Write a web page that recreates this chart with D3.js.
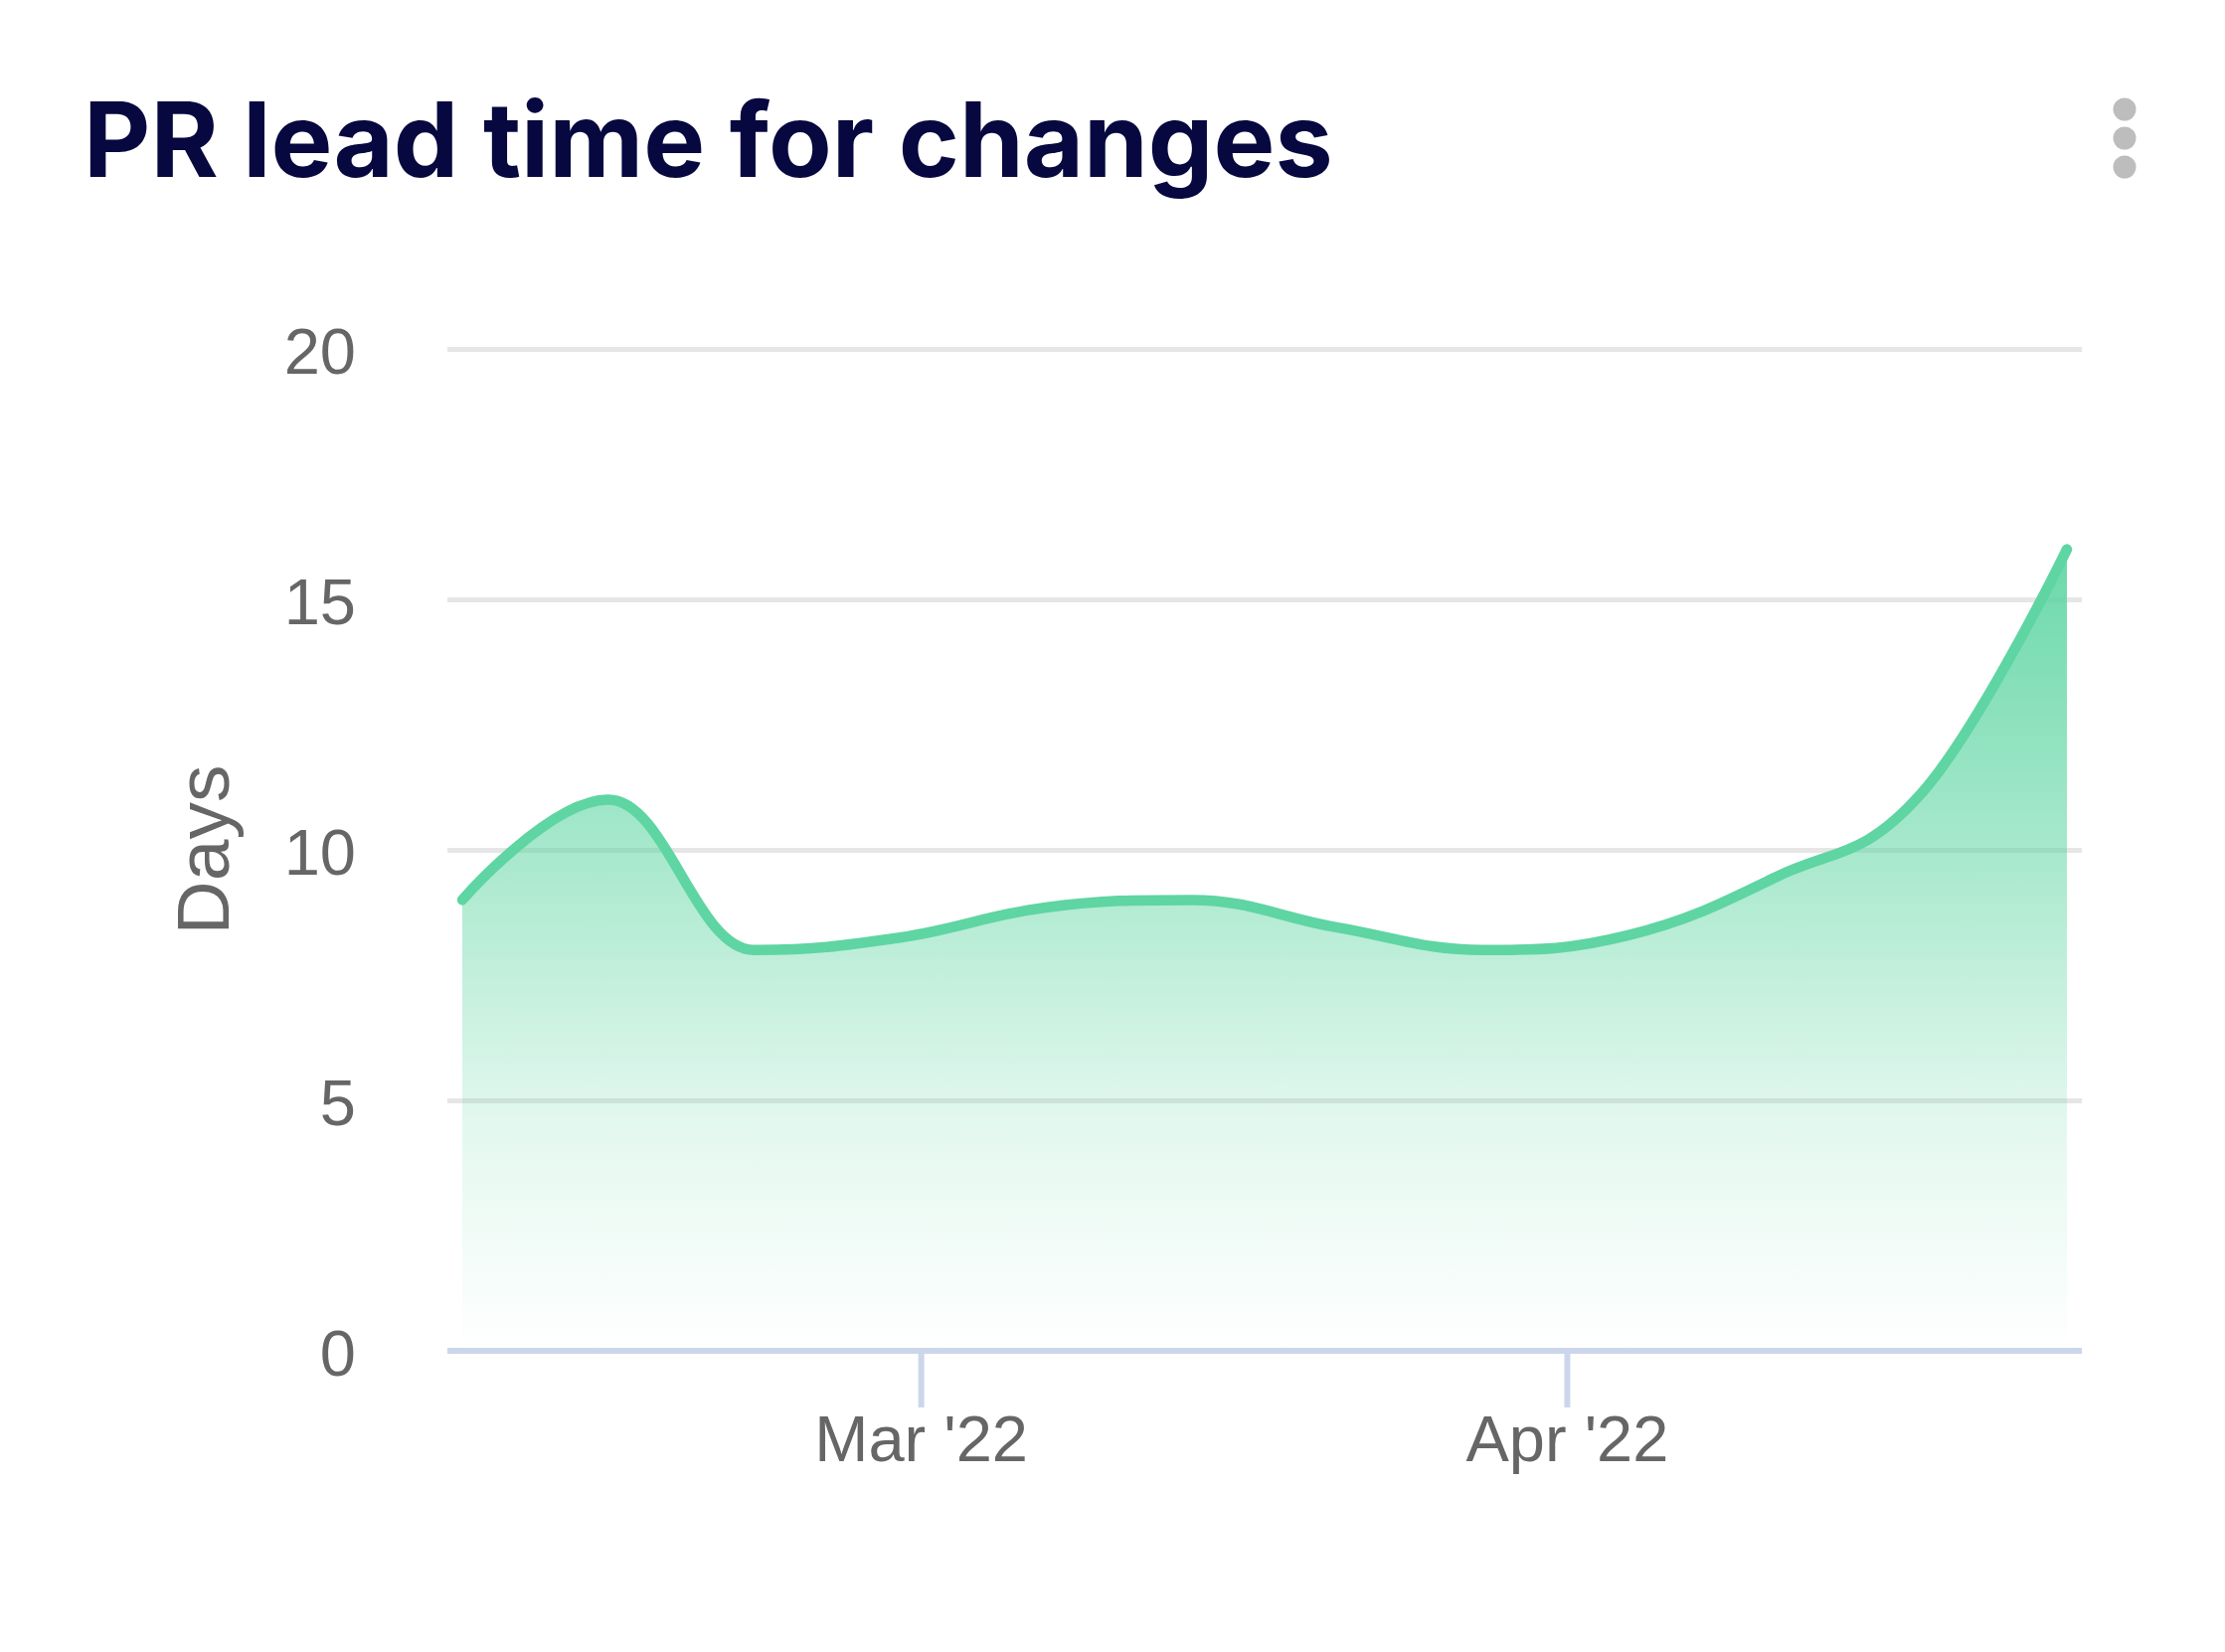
<!DOCTYPE html>
<html>
<head>
<meta charset="utf-8">
<script src="https://cdn.jsdelivr.net/npm/d3@7"></script>
<style>
    body { margin: 0; background: #ffffff; }
    svg { display: block; }
</style>
</head>
<body>
<div id="chart"></div>
<script>
"use strict";

var chartTitle = "PR lead time for changes";
var yAxisTitle = "Days";

// one point per week (Mondays)
var weeks = [
    "2022-02-07", "2022-02-14", "2022-02-21", "2022-02-28",
    "2022-03-07", "2022-03-14", "2022-03-21", "2022-03-28",
    "2022-04-04", "2022-04-11", "2022-04-18", "2022-04-25"
];
var leadDays = [9.0, 11.0, 8.0, 8.25, 8.85, 9.0, 8.45, 8.0, 8.3, 9.45, 11.12, 16.0];
var yTicks = [0, 5, 10, 15, 20];

var Width = 2238,
    Height = 1662,
    PlotLeft = 450,
    PlotRight = 2094,
    PlotTop = 351,
    PlotBottom = 1359,
    PointPad = 15;

var LineColor = "#5ed5a2",
    GridColor = "#e6e6e6",
    AxisColor = "#ccd6eb",
    LabelColor = "#666666";

var parseDay = d3.timeParse("%Y-%m-%d");
var points = weeks.map(function (w, i) {
    return {date: parseDay(w), value: leadDays[i]};
});

// spline the way highcharts draws it (smoothing 1.5, no false extremes)
function SplineCurve(context) {
    this._context = context;
}
SplineCurve.prototype = {
    areaStart: function () { this._line = 0; },
    areaEnd: function () { this._line = NaN; },
    lineStart: function () { this._pts = []; },
    point: function (x, y) { this._pts.push([+x, +y]); },
    lineEnd: function () {
        var pts = this._pts, n = pts.length, ctx = this._context;
        if (n) {
            if (this._line) ctx.lineTo(pts[0][0], pts[0][1]);
            else ctx.moveTo(pts[0][0], pts[0][1]);
            var prevRight = null;
            for (var i = 1; i < n; i++) {
                var p = pts[i], last = pts[i - 1], next = pts[i + 1];
                var left = null, right = null;
                if (next) {
                    var s = 1.5, den = 2.5;
                    var lcx = (s * p[0] + last[0]) / den, lcy = (s * p[1] + last[1]) / den,
                        rcx = (s * p[0] + next[0]) / den, rcy = (s * p[1] + next[1]) / den;
                    var corr = 0;
                    if (rcx !== lcx) corr = ((rcy - lcy) * (rcx - p[0])) / (rcx - lcx) + p[1] - rcy;
                    lcy += corr;
                    rcy += corr;
                    if (lcy > last[1] && lcy > p[1]) { lcy = Math.max(last[1], p[1]); rcy = 2 * p[1] - lcy; }
                    else if (lcy < last[1] && lcy < p[1]) { lcy = Math.min(last[1], p[1]); rcy = 2 * p[1] - lcy; }
                    if (rcy > next[1] && rcy > p[1]) { rcy = Math.max(next[1], p[1]); lcy = 2 * p[1] - rcy; }
                    else if (rcy < next[1] && rcy < p[1]) { rcy = Math.min(next[1], p[1]); lcy = 2 * p[1] - rcy; }
                    left = [lcx, lcy];
                    right = [rcx, rcy];
                }
                var c1 = prevRight || last, c2 = left || p;
                ctx.bezierCurveTo(c1[0], c1[1], c2[0], c2[1], p[0], p[1]);
                prevRight = right;
            }
        }
        if (this._line || (this._line !== 0 && n === 1)) ctx.closePath();
        this._line = 1 - this._line;
    }
};
function splineCurve(context) {
    return new SplineCurve(context);
}

var svg = d3.select("#chart")
    .append("svg")
    .attr("width", Width)
    .attr("height", Height);

var x = d3.scaleTime()
    .domain(d3.extent(points, function (d) { return d.date; }))
    .range([PlotLeft + PointPad, PlotRight - PointPad]);

var y = d3.scaleLinear()
    .domain([0, 20])
    .range([PlotBottom, PlotTop]);

var defs = svg.append("defs");
var grad = defs.append("linearGradient")
    .attr("id", "area-fill")
    .attr("x1", 0).attr("y1", 0)
    .attr("x2", 0).attr("y2", 1);
grad.append("stop").attr("offset", 0).attr("stop-color", LineColor).attr("stop-opacity", 0.92);
grad.append("stop").attr("offset", 0.4).attr("stop-color", LineColor).attr("stop-opacity", 0.52);
grad.append("stop").attr("offset", 0.72).attr("stop-color", LineColor).attr("stop-opacity", 0.17);
grad.append("stop").attr("offset", 1).attr("stop-color", LineColor).attr("stop-opacity", 0.0);

// title
svg.append("text")
    .attr("x", 84)
    .attr("y", 178)
    .style("font-family", "Inter, 'Noto Sans', sans-serif")
    .style("font-weight", 700)
    .style("font-size", "104px")
    .style("fill", "#06083f")
    .text(chartTitle);

// menu dots
svg.append("g")
    .selectAll("circle")
    .data([110, 139, 168])
    .enter()
    .append("circle")
    .attr("cx", 2137)
    .attr("cy", function (d) { return d; })
    .attr("r", 11.5)
    .style("fill", "#bdbdbd");

// y axis + grid
var yAxis = svg.append("g")
    .attr("transform", "translate(" + PlotLeft + ",0)")
    .call(d3.axisLeft(y)
        .tickValues(yTicks)
        .tickSize(-(PlotRight - PlotLeft))
        .tickPadding(92));
yAxis.select(".domain").remove();
yAxis.selectAll(".tick line")
    .style("stroke", GridColor)
    .style("stroke-width", 5);
yAxis.selectAll(".tick text")
    .attr("dy", "0.38em")
    .style("font-family", "'Liberation Sans', Arial, sans-serif")
    .style("font-size", "65px")
    .style("fill", LabelColor);

svg.append("text")
    .attr("transform", "translate(230," + ((PlotTop + PlotBottom) / 2) + ") rotate(-90)")
    .attr("text-anchor", "middle")
    .style("font-family", "'Liberation Sans', Arial, sans-serif")
    .style("font-size", "75px")
    .style("fill", LabelColor)
    .text(yAxisTitle);

// area + line
var area = d3.area()
    .x(function (d) { return x(d.date); })
    .y0(y(0))
    .y1(function (d) { return y(d.value); })
    .curve(splineCurve);

var line = d3.line()
    .x(function (d) { return x(d.date); })
    .y(function (d) { return y(d.value); })
    .curve(splineCurve);

svg.append("path")
    .datum(points)
    .attr("d", area)
    .style("fill", "url(#area-fill)");

// x axis
svg.append("line")
    .attr("x1", PlotLeft)
    .attr("x2", PlotRight)
    .attr("y1", PlotBottom)
    .attr("y2", PlotBottom)
    .style("stroke", AxisColor)
    .style("stroke-width", 6);

var xAxis = svg.append("g")
    .attr("transform", "translate(0," + PlotBottom + ")")
    .call(d3.axisBottom(x)
        .ticks(d3.timeMonth.every(1))
        .tickFormat(d3.timeFormat("%b '%y"))
        .tickSizeInner(57)
        .tickSizeOuter(0)
        .tickPadding(8));
xAxis.select(".domain").remove();
xAxis.selectAll(".tick line")
    .style("stroke", AxisColor)
    .style("stroke-width", 6);
xAxis.selectAll(".tick text")
    .style("font-family", "'Liberation Sans', Arial, sans-serif")
    .style("font-size", "65px")
    .style("fill", LabelColor);

svg.append("path")
    .datum(points)
    .attr("d", line)
    .style("fill", "none")
    .style("stroke", LineColor)
    .style("stroke-width", 10.5)
    .style("stroke-linecap", "round")
    .style("stroke-linejoin", "round");
</script>
</body>
</html>
